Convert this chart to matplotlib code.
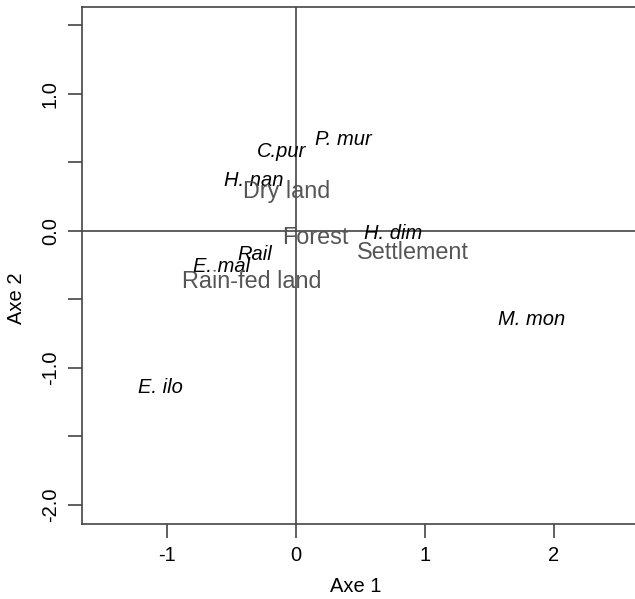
import matplotlib
matplotlib.use("Agg")
import matplotlib.pyplot as plt

plt.rcParams['font.family'] = ['Liberation Sans', 'DejaVu Sans']

# species scores (italic, black)
species = ['P. mur', 'C.pur', 'H. nan', 'H. dim', 'Rail', 'E. mal', 'M. mon', 'E. ilo']
sp_x = [0.37, -0.11, -0.33, 0.75, -0.32, -0.58, 1.83, -1.05]
sp_y = [0.67, 0.58, 0.37, -0.02, -0.17, -0.26, -0.65, -1.14]

# habitat scores (grey)
habitats = ['Dry land', 'Forest', 'Settlement', 'Rain-fed land']
hab_x = [-0.07, 0.15, 0.91, -0.34]
hab_y = [0.29, -0.05, -0.16, -0.37]

xticks = [-1, 0, 1, 2]
yticks = [-2.0, -1.5, -1.0, -0.5, 0.0, 0.5, 1.0, 1.5]
ytick_labels = ['-2.0', '', '-1.0', '', '0.0', '', '1.0', '']

fig = plt.figure(figsize=(6.35, 5.99), dpi=100)
ax = fig.add_axes([82 / 635, 1 - 524 / 599, 1 - 82 / 635, (524 - 7) / 599])
ax.set_xlim(-1.66, 2.63)
ax.set_ylim(-2.14, 1.635)

edge = '#444444'
ax.axhline(0, color=edge, lw=1.2)
ax.axvline(0, color=edge, lw=1.2)

for name, x, y in zip(species, sp_x, sp_y):
    ax.text(x, y, name, style='italic', fontsize=14.5, color='black',
            ha='center', va='center')
for name, x, y in zip(habitats, hab_x, hab_y):
    ax.text(x, y, name, fontsize=16.8, color='#555555', ha='center', va='center')

ax.set_xticks(xticks)
ax.set_xticklabels([str(t) for t in xticks])
ax.set_yticks(yticks)
ax.set_yticklabels(ytick_labels, rotation=90, va='center')
ax.tick_params(axis='both', length=10, width=1.2, color=edge, labelsize=14.5, pad=6)

ax.spines['right'].set_visible(False)
for s in ['left', 'bottom', 'top']:
    ax.spines[s].set_color(edge)
    ax.spines[s].set_linewidth(1.2)

fig.text(356 / 635, 1 - 586 / 599, 'Axe 1', fontsize=14.5, ha='center', va='center')
fig.text(17 / 635, 1 - 298 / 599, 'Axe 2', fontsize=14.5, ha='center', va='center',
         rotation=90)

fig.savefig('out.png', dpi=100)
